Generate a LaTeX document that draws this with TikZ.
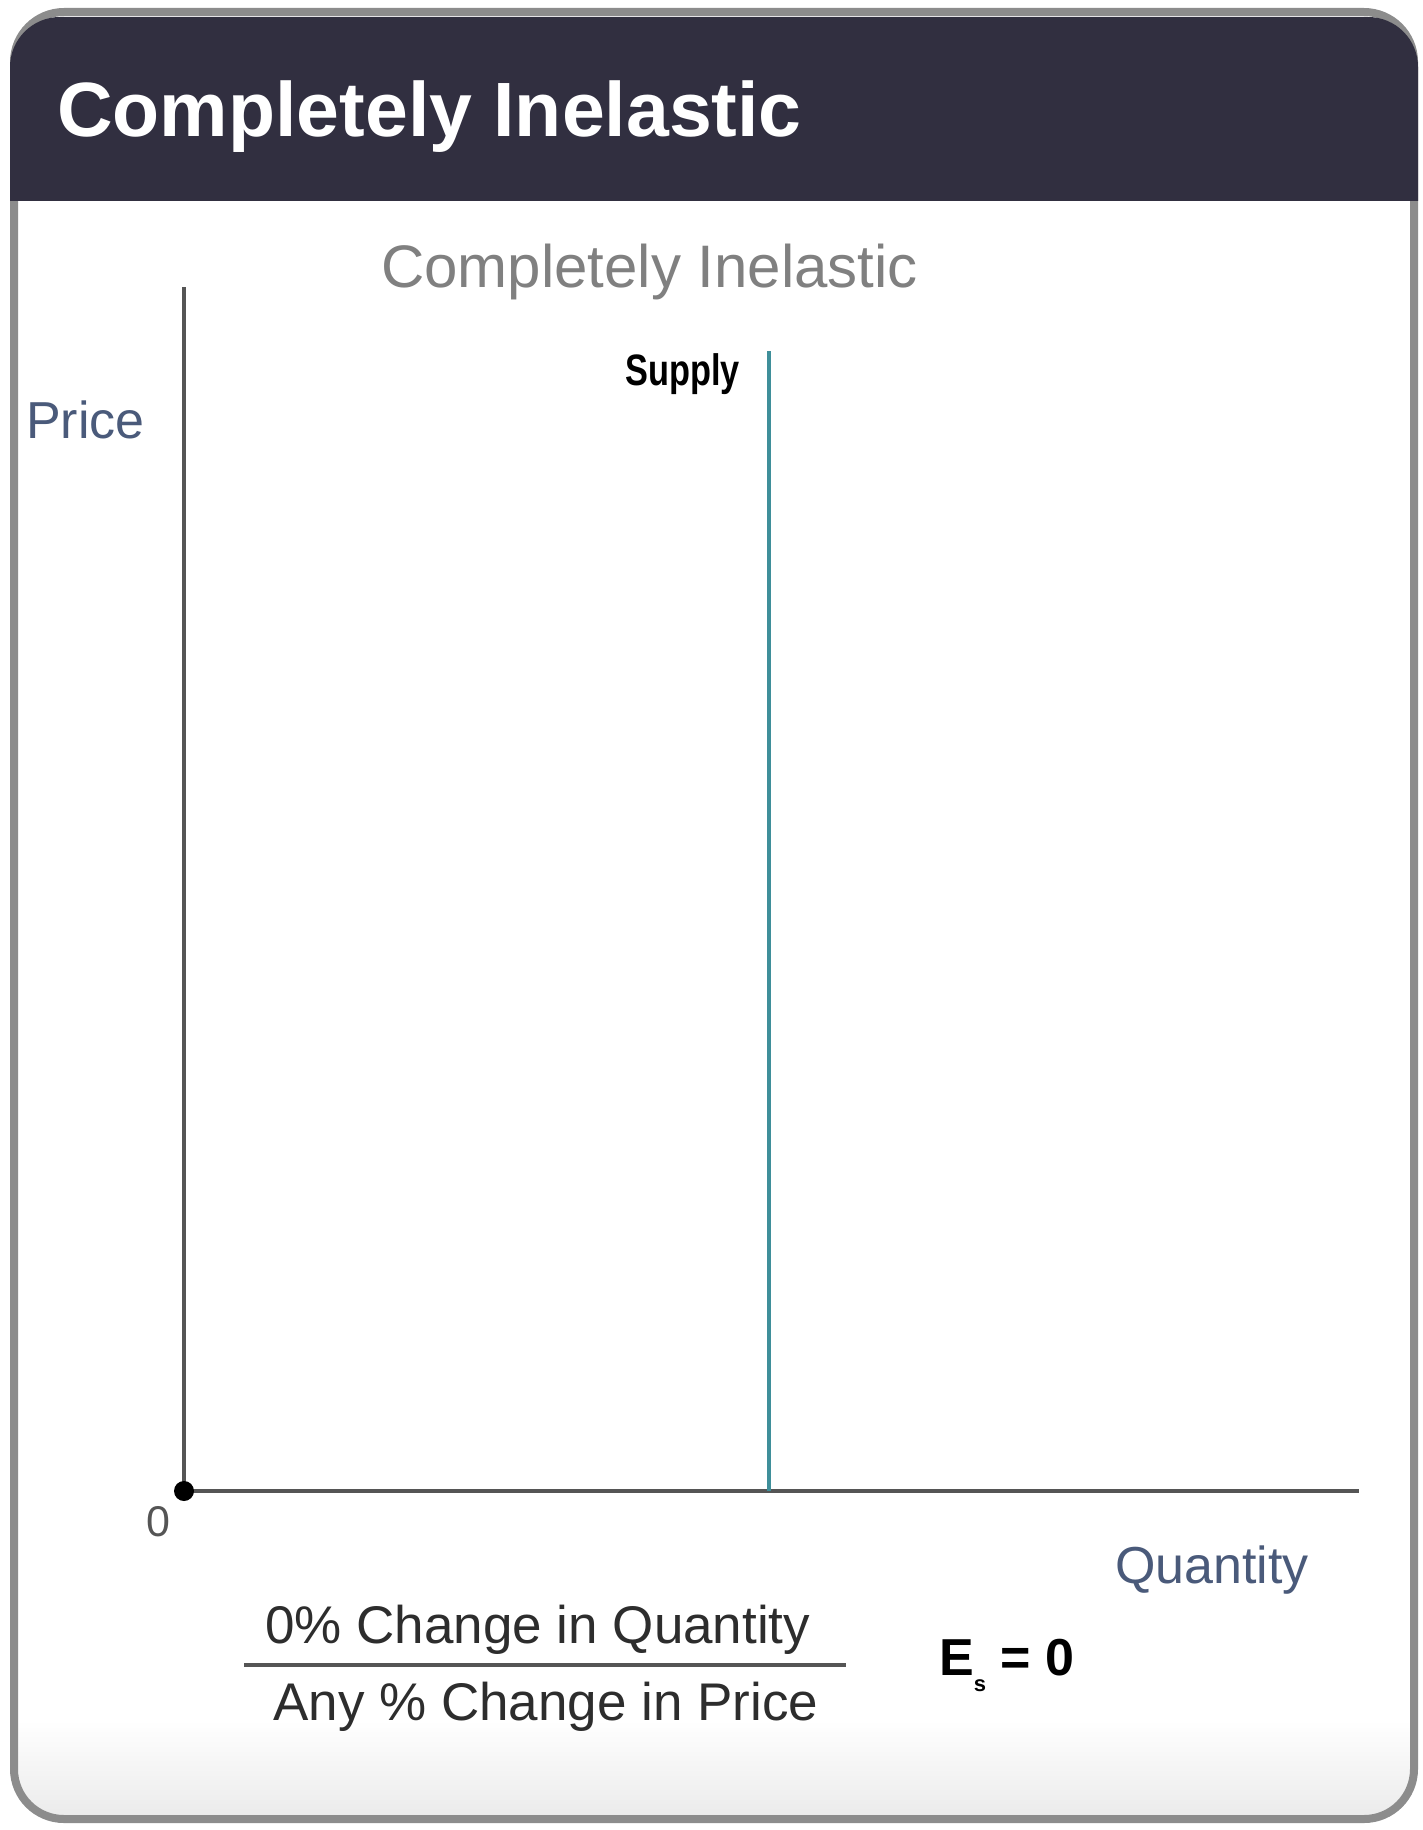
\documentclass[tikz,border=0pt]{standalone}
\usepackage{fontspec}
\setmainfont{Liberation Sans}
\usepackage{graphicx}
\definecolor{headdark}{RGB}{49,47,64}
\definecolor{bordergray}{RGB}{140,140,140}
\definecolor{axisgray}{RGB}{85,85,85}
\definecolor{labelblue}{RGB}{74,90,122}
\definecolor{subgray}{RGB}{128,128,128}
\definecolor{supplyteal}{RGB}{63,143,154}
\definecolor{textdark}{RGB}{45,45,45}
\tikzset{
  axisline/.style={draw=axisgray, line width=4pt},
  supplyline/.style={draw=supplyteal, line width=4pt},
  axislabel/.style={anchor=base west, inner sep=0pt, text=labelblue, font=\fontsize{52}{60}\selectfont},
  fractext/.style={anchor=base west, inner sep=0pt, text=textdark, font=\fontsize{53}{60}\selectfont},
}
\begin{document}
\begin{tikzpicture}[x=1pt,y=-1pt]
\useasboundingbox (0,0) rectangle (1422,1830);
\fill[white] (0,0) rectangle (1422,1830);
% inner box with bottom gradient
\begin{scope}
  \clip[rounded corners=50pt] (14,12) rectangle (1414,1819);
  \shade[top color=white, bottom color=black!9] (0,1720) rectangle (1422,1830);
\end{scope}
\draw[bordergray, line width=8pt, rounded corners=50pt] (14,12) rectangle (1414,1819);
% header
\begin{scope}
  \clip[rounded corners=50pt] (10,17) rectangle (1418,1830);
  \fill[headdark] (0,0) rectangle (1422,201);
\end{scope}
\node[anchor=base west, inner sep=0pt, text=white, font=\fontsize{77}{80}\selectfont\bfseries] (title) at (57,137) {Completely Inelastic};
% chart title
\node[anchor=base west, inner sep=0pt, text=subgray, font=\fontsize{60}{66}\selectfont] (subtitle) at (381,287) {Completely Inelastic};
% axes
\coordinate (origin) at (184,1491);
\coordinate (ytop) at (184,287);
\coordinate (xend) at (1359,1491);
\draw[axisline] (origin) -- (ytop);
\draw[axisline] (origin) -- (xend);
\fill[black] (origin) circle (10pt);
\node[anchor=base west, inner sep=0pt, text=axisgray, font=\fontsize{43}{48}\selectfont] (zero) at (146,1536) {0};
\node[axislabel] (price) at (26,438) {Price};
\node[axislabel] (quantity) at (1115,1583) {Quantity};
% supply
\coordinate (stop) at (769,351);
\coordinate (sbot) at (769,1491);
\draw[supplyline] (sbot) -- (stop);
\node[anchor=base east, inner sep=0pt, text=black, font=\fontsize{44}{48}\selectfont\bfseries] (supply) at (740,385) {\scalebox{0.78}[1]{Supply}};
% formula
\node[fractext] (num) at (265,1643) {0\% Change in Quantity};
\node[fractext] (den) at (273,1720) {Any \% Change in Price};
\coordinate (fl) at (244,1665);
\coordinate (fr) at (846,1665);
\draw[axisgray, line width=4pt] (fl) -- (fr);
\node[anchor=base west, inner sep=0pt, text=black, font=\fontsize{52}{60}\selectfont\bfseries] (es) at (939,1675) {E\raisebox{-16pt}{\fontsize{22}{24}\selectfont s} = 0};
\end{tikzpicture}
\end{document}
